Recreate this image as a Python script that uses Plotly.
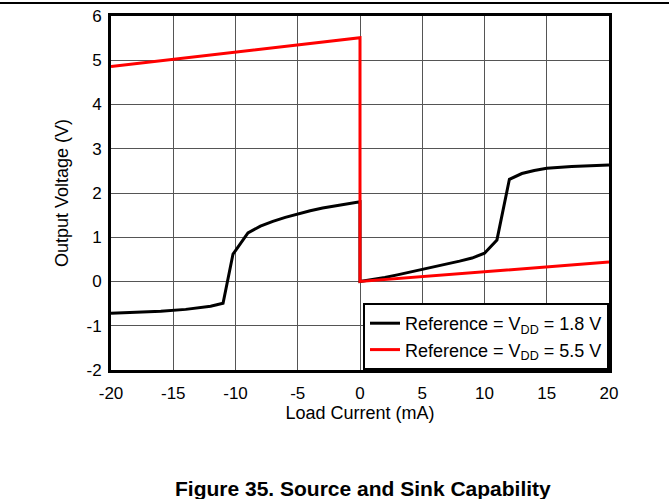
import plotly.graph_objects as go

# VDD = 1.8 V curve
current_18 = [-20, -18, -16, -14, -13, -12, -11, -10.2, -10, -9, -8, -7, -6, -5, -4, -3, -2, -1, 0,
              0, 1, 2, 3, 4, 5, 6, 7, 8, 9, 10, 11, 12, 13, 14, 15, 17, 20]
voltage_18 = [-0.72, -0.70, -0.67, -0.63, -0.60, -0.56, -0.49, 0.62, 0.70, 1.10, 1.25, 1.36, 1.45, 1.53, 1.60, 1.66, 1.71, 1.76, 1.80,
              0.0, 0.04, 0.09, 0.15, 0.21, 0.27, 0.33, 0.39, 0.46, 0.53, 0.64, 0.94, 2.31, 2.44, 2.51, 2.56, 2.60, 2.63]

# VDD = 5.5 V curve
current_55 = [-20, 0, 0, 20]
voltage_55 = [4.86, 5.51, 0.0, 0.44]

x_ticks = [-20, -15, -10, -5, 0, 5, 10, 15, 20]
x_tick_labels = ["-20", "-15", "-10", "-5", "0", "5", "10", "15", "20"]
y_ticks = [-2, -1, 0, 1, 2, 3, 4, 5, 6]
y_tick_labels = ["-2", "-1", "0", "1", "2", "3", "4", "5", "6"]

W, H = 669, 499
L, R, T, B = 111, 609, 16, 370

fig = go.Figure()
fig.add_trace(go.Scatter(x=current_18, y=voltage_18, mode="lines",
                         line=dict(color="black", width=3),
                         name="Reference = V<sub>DD</sub> = 1.8 V"))
fig.add_trace(go.Scatter(x=current_55, y=voltage_55, mode="lines",
                         line=dict(color="#ff0000", width=3),
                         name="Reference = V<sub>DD</sub> = 5.5 V"))

font = "Liberation Sans, Arial, sans-serif"
fig.update_layout(
    width=W, height=H,
    margin=dict(l=L, r=W - R, t=T, b=H - B, autoexpand=False),
    paper_bgcolor="white", plot_bgcolor="white",
    font=dict(family=font, size=16, color="black"),
    showlegend=True,
    legend=dict(x=1, y=0, xanchor="right", yanchor="bottom",
                bordercolor="black", borderwidth=2, bgcolor="white",
                font=dict(size=18), tracegroupgap=0, itemwidth=30),
    xaxis=dict(range=[-20, 20], tickvals=x_ticks, ticktext=x_tick_labels,
               ticks="outside", ticklen=6, tickcolor="rgba(0,0,0,0)",
               showgrid=True, automargin=False,
               gridcolor="#555", gridwidth=1, zeroline=False,
               showline=True, linecolor="black", linewidth=3, mirror=True,
               title=dict(text="Load Current (mA)", font=dict(size=18), standoff=0),
               tickfont=dict(size=17)),
    yaxis=dict(range=[-2, 6], tickvals=y_ticks, ticktext=y_tick_labels,
               ticks="outside", ticklen=3, tickcolor="rgba(0,0,0,0)",
               showgrid=True, automargin=False,
               gridcolor="#555", gridwidth=1, zeroline=False,
               showline=True, linecolor="black", linewidth=3, mirror=True,
               title=dict(text="Output Voltage (V)", font=dict(size=18), standoff=14),
               tickfont=dict(size=17)),
)

def px(x):
    return (x - L) / (R - L)

def py(y):
    return (B - y) / (B - T)

fig.add_shape(type="line", xref="paper", yref="paper",
              x0=px(0), x1=px(W), y0=py(3), y1=py(3),
              line=dict(color="black", width=2))

fig.add_annotation(text="<b>Figure 35. Source and Sink Capability</b>",
                   xref="paper", yref="paper", x=px(363), y=py(488),
                   xanchor="center", yanchor="middle", showarrow=False,
                   font=dict(size=21, family=font, color="black"))

fig.write_html("out.html",
               config={"displayModeBar": False},
               post_script="document.body.style.margin='0';document.body.style.overflow='hidden';")
